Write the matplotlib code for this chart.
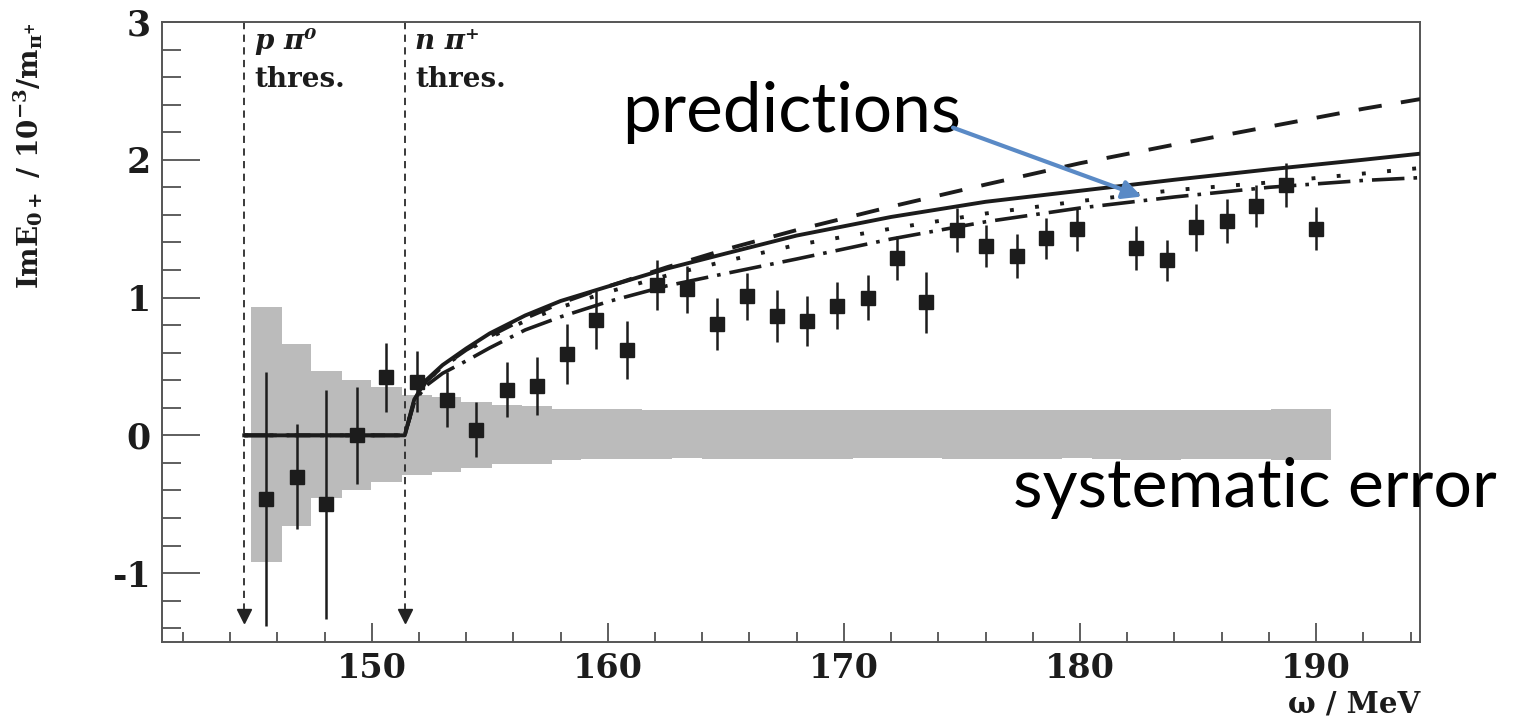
import matplotlib
matplotlib.use("Agg")
import matplotlib.pyplot as plt
import numpy as np

# measured points: omega / MeV, Im E0+, statistical error
omega = [145.51, 146.82, 148.06, 149.39, 150.61, 151.93, 153.18, 154.40, 155.72,
         156.99, 158.26, 159.50, 160.80, 162.07, 163.37, 164.61, 165.91, 167.15,
         168.45, 169.69, 171.01, 172.24, 173.48, 174.78, 176.02, 177.32, 178.56,
         179.89, 182.37, 183.67, 184.90, 186.21, 187.46, 188.73, 190.00]
im_e0 = [-0.46, -0.30, -0.50, 0.00, 0.42, 0.39, 0.26, 0.04, 0.33,
         0.36, 0.59, 0.84, 0.62, 1.09, 1.06, 0.81, 1.01, 0.865,
         0.83, 0.94, 1.00, 1.285, 0.965, 1.49, 1.375, 1.30, 1.43,
         1.495, 1.36, 1.27, 1.51, 1.555, 1.665, 1.82, 1.50]
stat_err = [0.92, 0.38, 0.83, 0.35, 0.25, 0.22, 0.20, 0.20, 0.20,
            0.21, 0.22, 0.21, 0.21, 0.18, 0.17, 0.19, 0.17, 0.19,
            0.18, 0.17, 0.165, 0.16, 0.22, 0.16, 0.15, 0.16, 0.15,
            0.155, 0.16, 0.15, 0.17, 0.16, 0.15, 0.16, 0.155]

# systematic error band (one bin per energy bin)
sys_x = [145.51, 146.82, 148.06, 149.39, 150.61, 151.93, 153.18, 154.40, 155.72,
         156.99, 158.26, 159.50, 160.80, 162.07, 163.37, 164.61, 165.91, 167.15,
         168.45, 169.69, 171.01, 172.24, 173.48, 174.78, 176.02, 177.32, 178.56,
         179.89, 181.13, 182.37, 183.67, 184.90, 186.21, 187.46, 188.73, 190.00]
sys_hi = [0.93, 0.66, 0.465, 0.405, 0.35, 0.296, 0.279, 0.242, 0.22,
          0.215, 0.19, 0.19, 0.188, 0.185, 0.185, 0.183, 0.182, 0.182,
          0.182, 0.182, 0.183, 0.182, 0.182, 0.183, 0.185, 0.183, 0.182,
          0.182, 0.184, 0.186, 0.185, 0.184, 0.186, 0.187, 0.188, 0.19]
sys_lo = [-0.92, -0.655, -0.456, -0.40, -0.34, -0.29, -0.267, -0.235, -0.21,
          -0.205, -0.18, -0.175, -0.172, -0.17, -0.168, -0.17, -0.172, -0.172,
          -0.17, -0.17, -0.168, -0.168, -0.168, -0.17, -0.172, -0.172, -0.17,
          -0.168, -0.172, -0.176, -0.176, -0.175, -0.174, -0.174, -0.176, -0.176]

# model predictions
pred_x = [144.6, 151.4, 151.8, 152.3, 153.0, 154.0, 155.0, 156.5, 158.0, 160.0,
          162.5, 165.0, 168.0, 172.0, 176.0, 180.0, 184.0, 188.0, 192.0, 194.4]
pred_solid = [0, 0, 0.26, 0.40, 0.51, 0.63, 0.74, 0.87, 0.975, 1.08,
              1.21, 1.32, 1.45, 1.585, 1.695, 1.775, 1.855, 1.93, 2.0, 2.044]
pred_dashed = [0, 0, 0.25, 0.39, 0.50, 0.62, 0.72, 0.85, 0.96, 1.08,
               1.22, 1.35, 1.49, 1.66, 1.82, 1.975, 2.11, 2.24, 2.37, 2.44]
pred_dotted = [0, 0, 0.25, 0.39, 0.50, 0.61, 0.71, 0.83, 0.93, 1.04,
               1.16, 1.265, 1.382, 1.50, 1.61, 1.70, 1.78, 1.835, 1.90, 1.94]
pred_dashdot = [0, 0, 0.24, 0.36, 0.45, 0.54, 0.635, 0.765, 0.86, 0.97,
                1.085, 1.175, 1.28, 1.425, 1.55, 1.65, 1.73, 1.80, 1.85, 1.87]

thresholds = [144.6, 151.4]
thres_labels = ["p π⁰", "n π⁺"]

xticks = [150, 160, 170, 180, 190]
yticks = [-1, 0, 1, 2, 3]
ytick_labels = ["-1", "0", "1", "2", "3"]

plt.rcParams["mathtext.fontset"] = "dejavuserif"
serif = "DejaVu Serif"
ink = "#1c1c1c"

fig = plt.figure(figsize=(15.16, 7.18), dpi=100)
ax = fig.add_axes([0.1069, 0.1058, 0.8298, 0.8636])

# systematic band
sx = np.array(sys_x)
half = 0.635
edges = np.append(sx - half, sx[-1] + half)
ax.stairs(sys_hi, edges, baseline=sys_lo, fill=True, color="#bbbbbb", lw=0, zorder=1)

# threshold markers
for t, lab in zip(thresholds, thres_labels):
    ax.plot([t, t], [3.0, -1.27], color="#2a2a2a", lw=1.3, ls=(0, (4, 3)), zorder=2)
    ax.plot([t], [-1.31], marker="v", ms=10, color="#222222", zorder=2)
    ax.text(t + 0.45, 2.86, lab, family=serif, fontweight="bold", fontstyle="italic",
            fontsize=20, va="center", ha="left", color=ink)
    ax.text(t + 0.45, 2.58, "thres.", family=serif, fontweight="bold",
            fontsize=20, va="center", ha="left", color=ink)

# predictions
ax.plot(pred_x, pred_solid, color=ink, lw=2.8, zorder=3)
ax.plot(pred_x, pred_dashed, color=ink, lw=2.8, ls=(0, (6, 5)), zorder=3)
ax.plot(pred_x, pred_dotted, color=ink, lw=2.8, ls=(0, (1, 5.5)), zorder=3)
ax.plot(pred_x, pred_dashdot, color=ink, lw=2.6, ls=(0, (9, 2.5, 1, 2.5)), zorder=3)

# data
ax.errorbar(omega, im_e0, yerr=stat_err, fmt="s", ms=10, color=ink,
            elinewidth=1.8, capsize=0, zorder=4)

ax.set_xlim(141.12, 194.4)
ax.set_ylim(-1.5, 3.0)

ax.set_xticks(xticks)
ax.set_xticks(np.arange(142, 195, 2), minor=True)
ax.set_yticks(yticks)
ax.set_yticklabels(ytick_labels)
ax.set_yticks(np.arange(-1.4, 3.0, 0.2), minor=True)

ax.tick_params(axis="both", which="both", direction="in", colors="#333333",
               top=False, right=False, width=1.1)
ax.tick_params(axis="x", which="major", length=14, pad=7, labelsize=24)
ax.tick_params(axis="x", which="minor", length=7)
ax.tick_params(axis="y", which="major", length=27, pad=8, labelsize=25)
ax.tick_params(axis="y", which="minor", length=14)
for lab in ax.get_xticklabels() + ax.get_yticklabels():
    lab.set_family(serif)
    lab.set_fontweight("bold")
    lab.set_color(ink)

for sp in ax.spines.values():
    sp.set_color("#555555")
    sp.set_linewidth(1.4)

ax.set_ylabel(r"ImE$_{\mathbf{0+}}$ / 10$^{\mathbf{-3}}$/m$_{\mathbf{\pi^{+}}}$",
              family=serif, fontweight="bold", fontsize=20, color=ink, loc="top")
ax.yaxis.set_label_coords(-0.093, 1.0)
ax.text(1.0, -0.077, "ω / MeV", transform=ax.transAxes, family=serif,
        fontweight="bold", fontsize=21, ha="right", va="top", color=ink)

# slide annotations
ax.text(160.6, 2.2, "predictions", family="Lato", fontsize=50, va="baseline",
        ha="left", color="black", zorder=6)
ax.annotate("", xy=(182.61, 1.733), xytext=(174.62, 2.233),
            arrowprops=dict(arrowstyle="-|>", color="#5a8ac6", lw=3,
                            mutation_scale=28, shrinkA=0, shrinkB=0), zorder=6)
ax.text(177.17, -0.52, "systematic error", family="Lato", fontsize=49,
        va="baseline", ha="left", color="black", zorder=6, clip_on=False)

fig.savefig("out.png", dpi=100)
